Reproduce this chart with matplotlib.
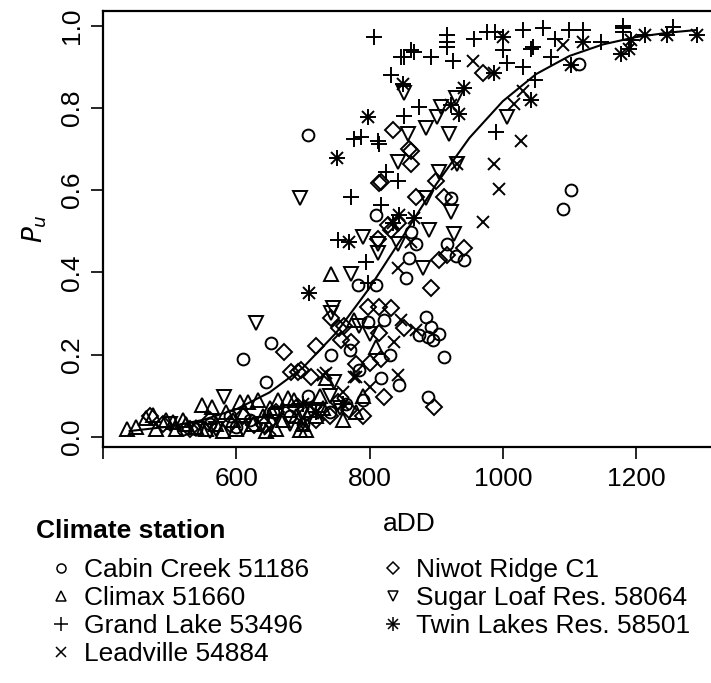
import matplotlib
matplotlib.use("Agg")
import matplotlib.pyplot as plt
from matplotlib.lines import Line2D

plt.rcParams['font.family'] = ['Liberation Sans', 'DejaVu Sans']

# station data (aDD, P_u)
cc_x = [708, 1114, 1102, 1090, 810, 922, 862, 917, 942, 859, 855, 782, 885, 892, 874, 888, 895, 912, 888,
        817, 844, 822, 742, 708, 784, 652, 610, 645, 810, 798, 560, 590, 620, 655, 680, 700, 740, 765, 790,
        540, 600, 520, 770, 830, 870, 930, 905]
cc_y = [0.733, 0.907, 0.600, 0.553, 0.539, 0.580, 0.498, 0.470, 0.430, 0.434, 0.386, 0.369, 0.291, 0.267,
        0.247, 0.243, 0.235, 0.194, 0.097, 0.142, 0.126, 0.284, 0.198, 0.100, 0.162, 0.227, 0.190, 0.133,
        0.370, 0.280, 0.030, 0.050, 0.040, 0.060, 0.050, 0.030, 0.060, 0.080, 0.090, 0.020, 0.025, 0.020,
        0.210, 0.200, 0.470, 0.440, 0.250]

cl_x = [436, 450, 465, 475, 495, 480, 510, 525, 540, 548, 563, 555, 570, 580, 595, 605, 612, 618, 625, 633,
        640, 650, 663, 670, 678, 687, 690, 695, 700, 710, 720, 742, 777, 810, 735, 730, 760, 780, 790, 660,
        505, 520, 585, 600, 645, 705, 725]
cl_y = [0.020, 0.024, 0.045, 0.053, 0.041, 0.020, 0.020, 0.030, 0.025, 0.077, 0.072, 0.020, 0.030, 0.015,
        0.040, 0.084, 0.060, 0.084, 0.030, 0.089, 0.050, 0.070, 0.089, 0.040, 0.094, 0.089, 0.050, 0.016,
        0.030, 0.065, 0.050, 0.397, 0.284, 0.218, 0.142, 0.070, 0.040, 0.060, 0.100, 0.020, 0.035, 0.040,
        0.060, 0.020, 0.015, 0.016, 0.100]

gl_x = [777, 772, 807, 852, 867, 892, 917, 917, 917, 925, 957, 977, 989, 1000, 1007, 1030, 1031, 1045, 832,
        874, 852, 787, 813, 990, 1049, 1061, 1079, 1099, 1121, 1147, 1072, 1181, 1181, 1181, 1256, 814, 825,
        842, 817, 753, 795, 798, 862, 847, 1042]
gl_y = [0.725, 0.583, 0.971, 0.923, 0.935, 0.923, 0.976, 0.959, 0.947, 0.915, 0.968, 0.984, 0.984, 0.940,
        0.908, 0.898, 0.988, 0.947, 0.879, 0.801, 0.781, 0.728, 0.720, 0.740, 0.867, 0.993, 0.968, 0.988,
        0.988, 0.959, 0.923, 1.000, 0.993, 0.985, 0.996, 0.713, 0.643, 0.623, 0.563, 0.478, 0.425, 0.373,
        0.940, 0.923, 0.944]

lv_x = [1091, 955, 1030, 1017, 1027, 987, 994, 970, 932, 862, 842, 837, 847, 842, 780, 735, 730, 777, 700,
        650, 720, 760, 800, 870]
lv_y = [0.952, 0.915, 0.842, 0.810, 0.720, 0.664, 0.603, 0.522, 0.664, 0.473, 0.410, 0.230, 0.284, 0.150,
        0.145, 0.155, 0.150, 0.145, 0.030, 0.020, 0.060, 0.110, 0.120, 0.260]

nr_x = [970, 835, 859, 862, 862, 817, 814, 870, 912, 900, 827, 842, 832, 812, 904, 917, 942, 892, 798, 814,
        832, 852, 754, 757, 772, 814, 742, 720, 672, 682, 697, 712, 780, 817, 822, 897, 753, 769, 627, 642,
        470, 490, 530, 560, 590, 610, 660, 690, 720, 740, 790, 693, 762, 800]
nr_y = [0.884, 0.745, 0.700, 0.664, 0.696, 0.619, 0.616, 0.583, 0.583, 0.623, 0.514, 0.519, 0.502, 0.482,
        0.429, 0.441, 0.460, 0.361, 0.315, 0.315, 0.313, 0.264, 0.264, 0.235, 0.230, 0.252, 0.290, 0.222,
        0.206, 0.157, 0.162, 0.145, 0.178, 0.190, 0.097, 0.073, 0.084, 0.065, 0.028, 0.028, 0.050, 0.030,
        0.020, 0.040, 0.030, 0.050, 0.060, 0.070, 0.040, 0.050, 0.050, 0.157, 0.270, 0.180]

sl_x = [696, 630, 582, 852, 857, 885, 902, 907, 930, 919, 1007, 842, 885, 904, 922, 889, 927, 880, 790, 812,
        812, 842, 772, 742, 745, 747, 712, 722, 784, 800, 500, 540, 570, 610, 640, 660, 700, 680, 740, 755,
        560, 932]
sl_y = [0.580, 0.276, 0.097, 0.835, 0.737, 0.750, 0.777, 0.801, 0.823, 0.737, 0.777, 0.667, 0.580, 0.643,
        0.546, 0.502, 0.494, 0.410, 0.486, 0.470, 0.446, 0.470, 0.397, 0.302, 0.312, 0.133, 0.065, 0.060,
        0.270, 0.250, 0.030, 0.020, 0.020, 0.020, 0.030, 0.050, 0.060, 0.030, 0.100, 0.070, 0.015, 0.664]

tl_x = [751, 709, 798, 850, 922, 934, 942, 1000, 987, 1042, 1102, 1120, 1177, 1189, 1192, 1214, 1247, 1292,
        844, 835, 867, 769, 700, 720, 760]
tl_y = [0.677, 0.349, 0.777, 0.859, 0.806, 0.786, 0.847, 0.971, 0.884, 0.818, 0.903, 0.959, 0.930, 0.944,
        0.964, 0.976, 0.976, 0.976, 0.539, 0.521, 0.531, 0.473, 0.080, 0.060, 0.080]

# fitted curve, read at regular aDD steps
curve_x = [440, 500, 550, 600, 650, 700, 750, 800, 850, 900, 950, 1000, 1050, 1100, 1150, 1200, 1250, 1290]
curve_y = [0.014, 0.025, 0.041, 0.067, 0.108, 0.168, 0.253, 0.362, 0.487, 0.614, 0.727, 0.816, 0.882,
           0.926, 0.954, 0.972, 0.983, 0.989]

labels = ['Cabin Creek 51186', 'Climax 51660', 'Grand Lake 53496', 'Leadville 54884',
          'Niwot Ridge C1', 'Sugar Loaf Res. 58064', 'Twin Lakes Res. 58501']

W, H = 711, 683
fig = plt.figure(figsize=(W / 100, H / 100), dpi=100)
ax = fig.add_axes([103 / W, 1 - 447 / H, (716 - 103) / W, (447 - 10.7) / H])

mew = 1.4
kw = dict(ls='none', mfc='none', mec='black', mew=mew, color='black')
ax.plot(cc_x, cc_y, marker='o', ms=8.5, **kw)
ax.plot(cl_x, cl_y, marker='^', ms=10, **kw)
ax.plot(gl_x, gl_y, marker='+', ms=12, **kw)
ax.plot(lv_x, lv_y, marker='x', ms=9, **kw)
ax.plot(nr_x, nr_y, marker='D', ms=8.5, **kw)
ax.plot(sl_x, sl_y, marker='v', ms=10, **kw)
ax.plot(tl_x, tl_y, marker='+', ms=12, **kw)
ax.plot(tl_x, tl_y, marker='x', ms=9, **kw)
ax.plot(curve_x, curve_y, color='black', lw=1.5)

ax.set_xlim(402.3, 1320)
ax.set_ylim(-0.0248, 1.0361)
ax.set_xticks([400, 600, 800, 1000, 1200])
ax.set_xticklabels(['', '600', '800', '1000', '1200'])
ax.set_yticks([0.0, 0.2, 0.4, 0.6, 0.8, 1.0])
ax.set_yticklabels(['0.0', '0.2', '0.4', '0.6', '0.8', '1.0'], rotation=90, va='center')
ax.tick_params(axis='x', length=8.5, width=1.2, labelsize=19, pad=6)
ax.tick_params(axis='y', length=8.5, width=1.2, labelsize=19, pad=5)
for s in ax.spines.values():
    s.set_linewidth(1.6)

ax.set_xlabel('aDD', fontsize=19, labelpad=15)
ax.set_ylabel('$P_u$', fontsize=19, labelpad=8)

# legend: title as its own text, entries in two columns below
fig.text(36 / W, 1 - 531 / H, 'Climate station', fontsize=19, fontweight='bold', va='center', ha='left')

def mk(m, ms):
    return Line2D([], [], ls='none', marker=m, ms=ms, mfc='none', mec='black', mew=1.1, color='black')

handles = [mk('o', 6.5), mk('^', 7.5), mk('+', 10), mk('x', 7.5),
           mk('D', 6.5), mk('v', 7.5), (mk('+', 10), mk('x', 7.5))]
leg = fig.legend(handles, labels, ncol=2, loc='upper left', bbox_to_anchor=(48 / W, 1 - 558 / H),
                 frameon=False, fontsize=19, borderpad=0, borderaxespad=0,
                 handlelength=1.0, handletextpad=0.35, columnspacing=2.7, labelspacing=0.15)

fig.savefig('out.png', dpi=100)
